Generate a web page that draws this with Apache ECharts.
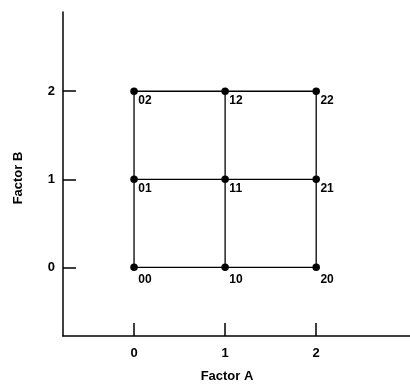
<!DOCTYPE html>
<html>
<head>
<meta charset="utf-8">
<script src="https://cdn.jsdelivr.net/npm/echarts@6/dist/echarts.min.js"></script>
<style>
  html, body { margin: 0; padding: 0; background: #fff; }
  #chart { width: 410px; height: 388px; }
</style>
</head>
<body>
<div id="chart"></div>
<script>
// Levels of the two factors in the 3x3 factorial design
const factorA = [0, 1, 2];
const factorB = [0, 1, 2];
const tickValues = [0, 1, 2];
const axisNameA = 'Factor A';
const axisNameB = 'Factor B';

const FONT = '"Liberation Sans", Arial, sans-serif';
const INK = '#000';

// Design points labelled by their level combination, e.g. "12" = A at 1, B at 2
const points = [];
factorB.forEach(b => {
  factorA.forEach(a => {
    points.push({
      value: [a, b],
      name: String(a) + String(b),
      label: { position: b === factorB[0] ? [8, 10] : [8, 7] }
    });
  });
});

// Lines joining design points: one per row (fixed B) and one per column (fixed A)
const gridLines = [];
factorB.forEach(b => gridLines.push(factorA.map(a => [a, b])));
factorA.forEach(a => gridLines.push(factorB.map(b => [a, b])));

const lineSeries = gridLines.map(d => ({
  type: 'line',
  data: d,
  symbol: 'none',
  silent: true,
  lineStyle: { color: INK, width: 1.3 },
  z: 1
}));

const textStyle = { color: INK, fontFamily: FONT, fontWeight: 'bold' };

const axisCommon = {
  type: 'value',
  nameLocation: 'middle',
  axisLine: { show: true, onZero: false, lineStyle: { color: INK, width: 1.5 } },
  axisTick: { show: true, inside: true, length: 13, customValues: tickValues, lineStyle: { color: INK, width: 1.5 } },
  splitLine: { show: false }
};

const chart = echarts.init(document.getElementById('chart'));
chart.setOption({
  animation: false,
  backgroundColor: '#fff',
  grid: { left: 63, right: 0, top: 12, bottom: 50, containLabel: false },
  xAxis: Object.assign({}, axisCommon, {
    min: -0.78,
    max: 3.03,
    name: axisNameA,
    nameGap: 34,
    nameTextStyle: Object.assign({ fontSize: 13, padding: [0, 19, 0, 0] }, textStyle),
    axisLabel: Object.assign({ customValues: tickValues, fontSize: 13, margin: 11 }, textStyle)
  }),
  yAxis: Object.assign({}, axisCommon, {
    min: -0.78,
    max: 2.9,
    name: axisNameB,
    nameGap: 38,
    nameTextStyle: Object.assign({ fontSize: 13, padding: [0, 8, 0, 0] }, textStyle),
    axisLabel: Object.assign({ customValues: tickValues, fontSize: 13, margin: 8 }, textStyle)
  }),
  series: lineSeries.concat([{
    type: 'scatter',
    data: points,
    symbol: 'circle',
    symbolSize: 7.5,
    itemStyle: { color: INK, opacity: 1 },
    z: 3,
    label: Object.assign({
      show: true,
      formatter: p => p.name,
      fontSize: 12,
      textBorderWidth: 0,
      opacity: 1
    }, textStyle)
  }])
});
</script>
</body>
</html>
